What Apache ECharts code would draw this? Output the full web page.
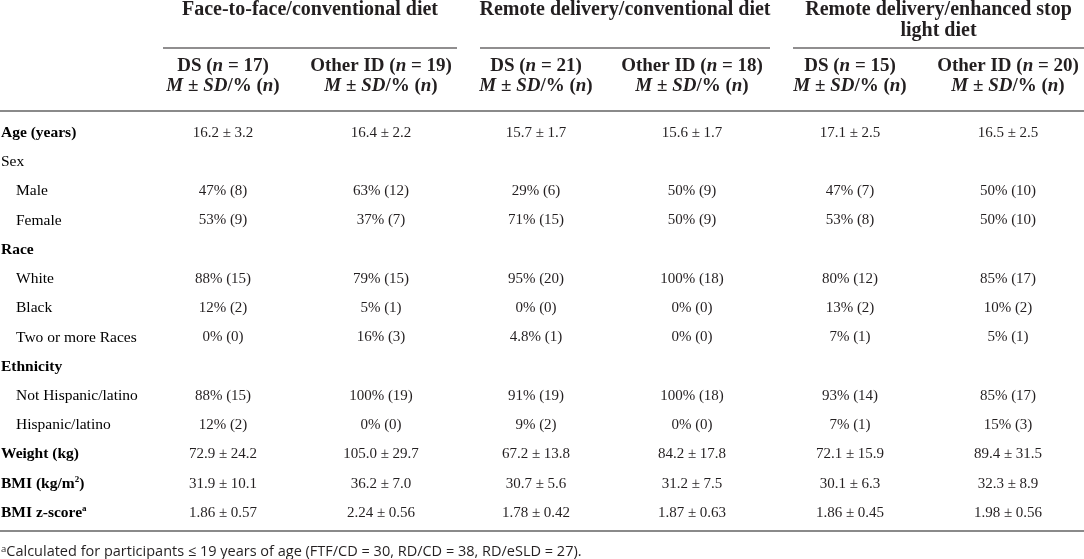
<!DOCTYPE html>
<html>
<head>
<meta charset="utf-8">
<title>Participant characteristics</title>
<script src="https://cdn.jsdelivr.net/npm/echarts@6/dist/echarts.min.js"></script>
<style>
  html, body { margin: 0; padding: 0; background: #fff; }
  #main { width: 1084px; height: 559px; }
</style>
</head>
<body>
<div id="main"></div>
<script>
// ---- table content ----
const groupTitles = ['Face-to-face/conventional diet', 'Remote delivery/conventional diet', 'Remote delivery/enhanced stop\nlight diet'];
const subGroups = ['DS', 'Other ID', 'DS', 'Other ID', 'DS', 'Other ID'];
const subGroupN = [17, 19, 21, 18, 15, 20];

// {sup|..} marks a superscript inside a row label
const rowLabels = ['Age (years)', 'Sex', 'Male', 'Female', 'Race', 'White', 'Black', 'Two or more Races',
  'Ethnicity', 'Not Hispanic/latino', 'Hispanic/latino', 'Weight (kg)', 'BMI (kg/m{sup|2})', 'BMI z-score{sup|a}'];
const rowBold = [1, 0, 0, 0, 1, 0, 0, 0, 1, 0, 0, 1, 1, 1];
const rowIndent = [0, 0, 1, 1, 0, 1, 1, 1, 0, 1, 1, 0, 0, 0];

const ftfDS = ['16.2 ± 3.2', '', '47% (8)', '53% (9)', '', '88% (15)', '12% (2)', '0% (0)', '', '88% (15)', '12% (2)', '72.9 ± 24.2', '31.9 ± 10.1', '1.86 ± 0.57'];
const ftfOther = ['16.4 ± 2.2', '', '63% (12)', '37% (7)', '', '79% (15)', '5% (1)', '16% (3)', '', '100% (19)', '0% (0)', '105.0 ± 29.7', '36.2 ± 7.0', '2.24 ± 0.56'];
const rdDS = ['15.7 ± 1.7', '', '29% (6)', '71% (15)', '', '95% (20)', '0% (0)', '4.8% (1)', '', '91% (19)', '9% (2)', '67.2 ± 13.8', '30.7 ± 5.6', '1.78 ± 0.42'];
const rdOther = ['15.6 ± 1.7', '', '50% (9)', '50% (9)', '', '100% (18)', '0% (0)', '0% (0)', '', '100% (18)', '0% (0)', '84.2 ± 17.8', '31.2 ± 7.5', '1.87 ± 0.63'];
const esldDS = ['17.1 ± 2.5', '', '47% (7)', '53% (8)', '', '80% (12)', '13% (2)', '7% (1)', '', '93% (14)', '7% (1)', '72.1 ± 15.9', '30.1 ± 6.3', '1.86 ± 0.45'];
const esldOther = ['16.5 ± 2.5', '', '50% (10)', '50% (10)', '', '85% (17)', '10% (2)', '5% (1)', '', '85% (17)', '15% (3)', '89.4 ± 31.5', '32.3 ± 8.9', '1.98 ± 0.56'];

const footnote = 'Calculated for participants ≤ 19 years of age (FTF/CD = 30, RD/CD = 38, RD/eSLD = 27).';

// ---- layout (kept apart from the data) ----
const W = 1084;
const colX = [223, 381, 536, 692, 850, 1008];
const groupSpan = [[163, 457], [480, 770], [793, 1084]];
const HEAD_H = 111;
const SERIF = '"Liberation Serif", "DejaVu Serif", serif';
const SANS = '"Open Sans", "Noto Sans", sans-serif';
const INK = '#231f20';
const RULE = '#8a8a8a';

const columns = [ftfDS, ftfOther, rdDS, rdOther, esldDS, esldOther];

const richHead = {
  b: { fontFamily: SERIF, fontWeight: 'bold', fontSize: 19, color: INK, lineHeight: 20 },
  bi: { fontFamily: SERIF, fontWeight: 'bold', fontStyle: 'italic', fontSize: 19, color: INK, lineHeight: 20 }
};

let chart = echarts.init(document.getElementById('main'), null, { renderer: 'canvas' });

// wrap plain parts of a label in {t|..}, keep {sup|..} parts as they are
function richLabel(label) {
  return label.split(/(\{sup\|[^}]*\})/).map(function (part) {
    if (!part) return '';
    return part.indexOf('{sup|') === 0 ? part : '{t|' + part + '}';
  }).join('');
}

// header: group titles with underlines, then sub-group headings
function renderHeader(params, api) {
  let kind = api.value(0);
  let idx = api.value(1);
  if (kind === 0) {
    let span = groupSpan[idx];
    let cx = api.coord([(span[0] + span[1]) / 2, 0])[0];
    let top = api.coord([0, 0])[1];
    let ruleY = api.coord([0, 48])[1];
    let p0 = api.coord([span[0], 48]);
    let p1 = api.coord([span[1], 48]);
    return {
      type: 'group',
      children: [
        {
          type: 'text',
          style: {
            text: groupTitles[idx], x: cx, y: top - 1, align: 'center', verticalAlign: 'top',
            fontFamily: SERIF, fontWeight: 'bold', fontSize: 20, lineHeight: 21, fill: INK
          }
        },
        {
          type: 'line',
          shape: { x1: p0[0], y1: ruleY, x2: p1[0], y2: ruleY },
          style: { stroke: INK, lineWidth: 1.2 }
        }
      ]
    };
  }
  let pos = api.coord([colX[idx], 56]);
  let txt = '{b|' + subGroups[idx] + ' (}{bi|n}{b| = ' + subGroupN[idx] + ')}\n' +
    '{bi|M}{b| ± }{bi|SD}{b|/% (}{bi|n}{b|)}';
  return {
    type: 'text',
    style: {
      text: txt, x: pos[0], y: pos[1], align: 'center', verticalAlign: 'top',
      rich: richHead, fill: INK
    }
  };
}

function renderCell(params, api) {
  let j = api.value(0);
  let i = api.value(1);
  let text = columns[j][i];
  if (!text) return null;
  let pos = api.coord([colX[j], i]);
  return {
    type: 'text',
    style: {
      text: text, x: pos[0], y: pos[1], align: 'center', verticalAlign: 'middle',
      fontFamily: SERIF, fontSize: 15, fill: INK
    }
  };
}

function renderLabel(params, api) {
  let i = api.value(0);
  let pos = api.coord([rowIndent[i] ? 16 : 1, i]);
  let w = rowBold[i] ? 'bold' : 'normal';
  return {
    type: 'text',
    style: {
      text: richLabel(rowLabels[i]),
      x: pos[0], y: pos[1], align: 'left', verticalAlign: 'middle',
      rich: {
        t: { fontFamily: SERIF, fontWeight: w, fontSize: 15.5, color: INK, lineHeight: 18 },
        sup: { fontFamily: SERIF, fontWeight: w, fontSize: 9, color: INK, verticalAlign: 'top', lineHeight: 18 }
      }
    }
  };
}

let headerData = [];
groupTitles.forEach(function (g, k) { headerData.push([0, k]); });
subGroups.forEach(function (s, k) { headerData.push([1, k]); });

let cellData = [];
columns.forEach(function (col, j) {
  col.forEach(function (v, i) { if (v) cellData.push([j, i]); });
});
let labelData = rowLabels.map(function (l, i) { return [i]; });

let option = {
  animation: false,
  backgroundColor: '#fff',
  title: {
    text: '{a|a}{t|' + footnote + '}',
    left: 1,
    top: 544,
    padding: 0,
    textStyle: {
      fontWeight: 'normal',
      rich: {
        a: { fontFamily: SANS, fontWeight: 'normal', fontSize: 9.5, color: INK, verticalAlign: 'top', lineHeight: 16 },
        t: { fontFamily: SANS, fontWeight: 'normal', fontSize: 14.5, color: INK, lineHeight: 16 }
      }
    }
  },
  grid: [
    { left: 0, right: 0, top: 0, height: HEAD_H },
    { left: 0, right: 0, top: 118.1, height: 409.5 }
  ],
  xAxis: [
    {
      gridIndex: 0, type: 'value', min: 0, max: W,
      axisLine: { show: true, onZero: false, lineStyle: { color: RULE, width: 2 } },
      axisTick: { show: false }, axisLabel: { show: false }, splitLine: { show: false }
    },
    {
      gridIndex: 1, type: 'value', min: 0, max: W, offset: 3.5,
      axisLine: { show: true, onZero: false, lineStyle: { color: RULE, width: 2 } },
      axisTick: { show: false }, axisLabel: { show: false }, splitLine: { show: false }
    }
  ],
  yAxis: [
    { gridIndex: 0, type: 'value', min: 0, max: HEAD_H, inverse: true, show: false },
    {
      gridIndex: 1, type: 'category', inverse: true, show: false,
      data: rowLabels.map(function (l, i) { return i; })
    }
  ],
  series: [
    {
      type: 'custom', xAxisIndex: 0, yAxisIndex: 0,
      renderItem: renderHeader, data: headerData, silent: true
    },
    {
      type: 'custom', xAxisIndex: 1, yAxisIndex: 1,
      renderItem: renderLabel, data: labelData, silent: true,
      encode: { y: 0 }
    },
    {
      type: 'custom', xAxisIndex: 1, yAxisIndex: 1,
      renderItem: renderCell, data: cellData, silent: true
    }
  ]
};

chart.setOption(option);
</script>
</body>
</html>
